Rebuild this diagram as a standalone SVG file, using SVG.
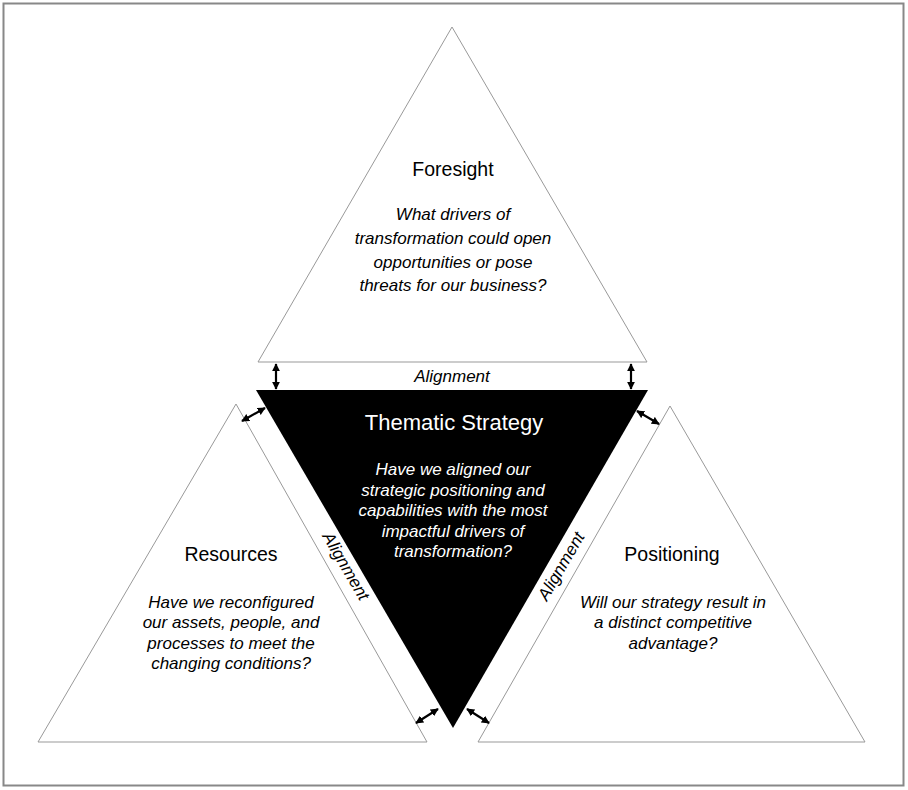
<svg xmlns="http://www.w3.org/2000/svg" width="908" height="790" viewBox="0 0 908 790">
<defs>
<marker id="ah" viewBox="0 0 10 10" refX="9" refY="5" markerWidth="8" markerHeight="8" orient="auto-start-reverse" markerUnits="userSpaceOnUse">
<path d="M0,0 L10,5 L0,10 z" fill="#000"/>
</marker>
<style>
.tri{fill:#fff;stroke:#999;stroke-width:1}
.title{font-family:"Liberation Sans",Arial,sans-serif;font-size:19.5px;text-anchor:middle;fill:#000}
.q{font-family:"Liberation Sans",Arial,sans-serif;font-size:17px;font-style:italic;text-anchor:middle;fill:#000}
.w{fill:#fff}
.al{font-family:"Liberation Sans",Arial,sans-serif;font-size:17px;font-style:italic;text-anchor:middle;fill:#000}
.arr{stroke:#000;stroke-width:2.2;fill:none;marker-start:url(#ah);marker-end:url(#ah)}
</style>
</defs>
<rect x="3.5" y="3.5" width="900" height="782" fill="#fff" stroke="#888" stroke-width="2"/>
<g id="foresight">
<polygon class="tri" points="452,27 258,362 647,362"/>
<text class="title" x="453" y="176">Foresight</text>
<text class="q" x="453" y="220">What drivers of</text>
<text class="q" x="453" y="244">transformation could open</text>
<text class="q" x="453" y="268">opportunities or pose</text>
<text class="q" x="453" y="291">threats for our business?</text>
</g>
<g id="thematic">
<polygon points="256,390 648,390 453,728" fill="#000"/>
<text class="title w" x="454" y="430" style="font-size:22px">Thematic Strategy</text>
<text class="q w" x="453" y="475">Have we aligned our</text>
<text class="q w" x="453" y="496">strategic positioning and</text>
<text class="q w" x="453" y="516">capabilities with the most</text>
<text class="q w" x="453" y="537">impactful drivers of</text>
<text class="q w" x="453" y="557">transformation?</text>
</g>
<g id="resources">
<polygon class="tri" points="236,404 38,742 427,742"/>
<text class="title" x="231" y="561">Resources</text>
<text class="q" x="231" y="608">Have we reconfigured</text>
<text class="q" x="231" y="628">our assets, people, and</text>
<text class="q" x="231" y="649">processes to meet the</text>
<text class="q" x="231" y="669">changing conditions?</text>
</g>
<g id="positioning">
<polygon class="tri" points="670,406 478,742 865,742"/>
<text class="title" x="672" y="561">Positioning</text>
<text class="q" x="673" y="608">Will our strategy result in</text>
<text class="q" x="673" y="628">a distinct competitive</text>
<text class="q" x="673" y="649">advantage?</text>
</g>
<g id="connectors">
<line class="arr" x1="276" y1="364" x2="276" y2="389"/>
<line class="arr" x1="631" y1="364" x2="631" y2="389"/>
<line class="arr" x1="242" y1="421" x2="265" y2="408"/>
<line class="arr" x1="637" y1="411" x2="659" y2="424"/>
<line class="arr" x1="416" y1="723" x2="438" y2="709"/>
<line class="arr" x1="467" y1="709" x2="489" y2="723"/>
<text class="al" x="452" y="382">Alignment</text>
<text class="al" x="0" y="0" transform="translate(341,569) rotate(59.8)">Alignment</text>
<text class="al" x="0" y="0" transform="translate(566,569) rotate(-59.8)">Alignment</text>
</g>
</svg>
